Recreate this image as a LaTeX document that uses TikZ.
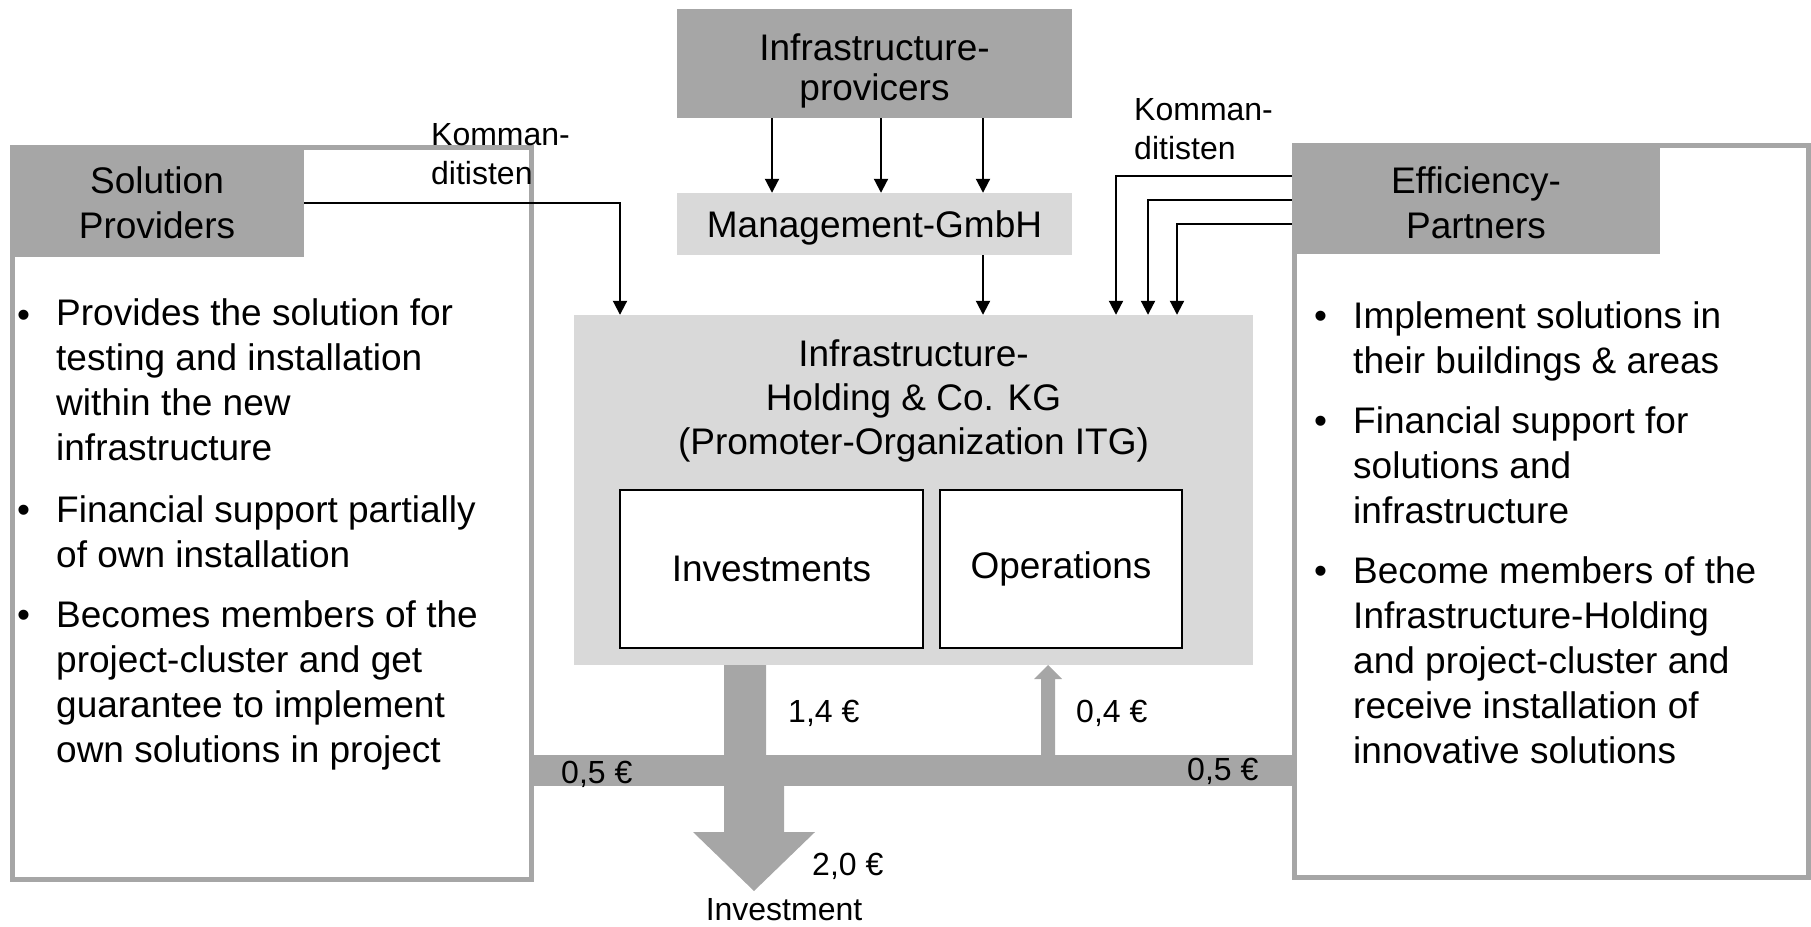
\documentclass[tikz,border=0pt]{standalone}
\usepackage{fontspec}
\setmainfont{Liberation Sans}
\usetikzlibrary{arrows.meta}
\definecolor{dgrey}{HTML}{A6A6A6}
\definecolor{lgrey}{HTML}{D9D9D9}
\begin{document}
\begin{tikzpicture}[x=1pt,y=-1pt,
  every node/.style={inner sep=0pt},
  big/.style={font=\fontsize{37}{45}\selectfont},
  small/.style={font=\fontsize{32}{39}\selectfont},
  arr/.style={line width=2pt,-{Triangle[length=14pt,width=14pt]}},
  frame/.style={draw=dgrey,line width=5pt,fill=white},
  hdr/.style={fill=dgrey,big,align=center},
  light/.style={fill=lgrey,big,align=center},
  inbox/.style={draw=black,line width=2pt,fill=white,big},
  item/.style={big,anchor=base west,align=left},
  lbl/.style={small,anchor=base west},
  flow/.style={fill=dgrey}]
\useasboundingbox (0,0) rectangle (1811,926);

% side frames and headers
\node[frame,minimum width=519pt,minimum height=732pt] (lframe) at (272,513.5) {};
\node[hdr,minimum width=294pt,minimum height=112pt,text height=74pt,text depth=0pt] (lhead) at (157,201) {Solution\\Providers};
\node[frame,minimum width=514pt,minimum height=732pt] (rframe) at (1551.5,511.5) {};
\node[hdr,minimum width=368pt,minimum height=111pt,text height=79pt,text depth=0pt] (rhead) at (1476,198.5) {Efficiency-\\Partners};

% centre boxes
\node[hdr,font=\fontsize{37}{40}\selectfont,minimum width=395pt,minimum height=109pt,text height=81pt,text depth=8pt] (prov) at (874.5,63.5) {Infrastructure-\\provicers};
\node[light,minimum width=395pt,minimum height=62pt,text height=27pt,text depth=0pt] (mgmt) at (874.5,224) {Management-GmbH};
\node[fill=lgrey,minimum width=679pt,minimum height=350pt] (hold) at (913.5,490) {};
\node[font=\fontsize{37}{44}\selectfont,align=center,anchor=base] (holdtxt) at (913.5,454) {Infrastructure-\\Holding \& Co. KG\\(Promoter-Organization ITG)};
\node[inbox,minimum width=303pt,minimum height=158pt] (inv) at (771.5,569) {Investments};
\node[inbox,minimum width=242pt,minimum height=158pt] (ops) at (1061,569) {Operations};

% thin arrows
\foreach \dx in {-102.5,6.5,108.5}
  \draw[arr] ([xshift=\dx pt]prov.south) -- ([xshift=\dx pt]mgmt.north);
\draw[arr] ([xshift=108.5pt]mgmt.south) -- ([xshift=69.5pt]hold.north);
\draw[arr] ([yshift=-2pt]lhead.east) -| ([xshift=-293.5pt]hold.north);
\draw[arr] ([yshift=22.5pt]rhead.west) -| ([xshift=202.5pt]hold.north);
\draw[arr] ([yshift=-1.5pt]rhead.west) -| ([xshift=234.5pt]hold.north);
\draw[arr] ([yshift=-25.5pt]rhead.west) -| ([xshift=263.5pt]hold.north);

\node[small,align=left,anchor=base west] (kl) at (431,184) {Komman-\\ditisten};
\node[small,align=left,anchor=base west] (kr) at (1134,159) {Komman-\\ditisten};

% money flows
\fill[flow] (533,755) rectangle (1293,786);
\fill[flow] (724,665) -- (766,665) -- (766,786) -- (784,786) -- (784,832) -- (815,832) -- (754,891) -- (693,832) -- (724,832) -- cycle;
\fill[flow] (1041,755) -- (1041,679) -- (1034,679) -- (1048,665) -- (1062,679) -- (1055,679) -- (1055,755) -- cycle;

\node[lbl] (v14) at (788,722) {1,4 €};
\node[lbl] (v04) at (1076,722) {0,4 €};
\node[lbl] (v05l) at (561,783) {0,5 €};
\node[lbl] (v05r) at (1187,780) {0,5 €};
\node[lbl] (v20) at (812,875) {2,0 €};
\node[small,anchor=base] (invest) at (784,920) {Investment};

% left bullets
\node[item] (lb1) at (17,327) {•};
\node[item] (lt1) at (56,460) {Provides the solution for\\testing and installation\\within the new\\infrastructure};
\node[item] (lb2) at (17,522) {•};
\node[item] (lt2) at (56,567) {Financial support partially\\of own installation};
\node[item] (lb3) at (17,627) {•};
\node[item] (lt3) at (56,762) {Becomes members of the\\project-cluster and get\\guarantee to implement\\own solutions in project};

% right bullets
\node[item] (rb1) at (1314,328) {•};
\node[item] (rt1) at (1353,373) {Implement solutions in\\their buildings \& areas};
\node[item] (rb2) at (1314,433) {•};
\node[item] (rt2) at (1353,523) {Financial support for\\solutions and\\infrastructure};
\node[item] (rb3) at (1314,583) {•};
\node[item] (rt3) at (1353,763) {Become members of the\\Infrastructure-Holding\\and project-cluster and\\receive installation of\\innovative solutions};
\end{tikzpicture}
\end{document}
